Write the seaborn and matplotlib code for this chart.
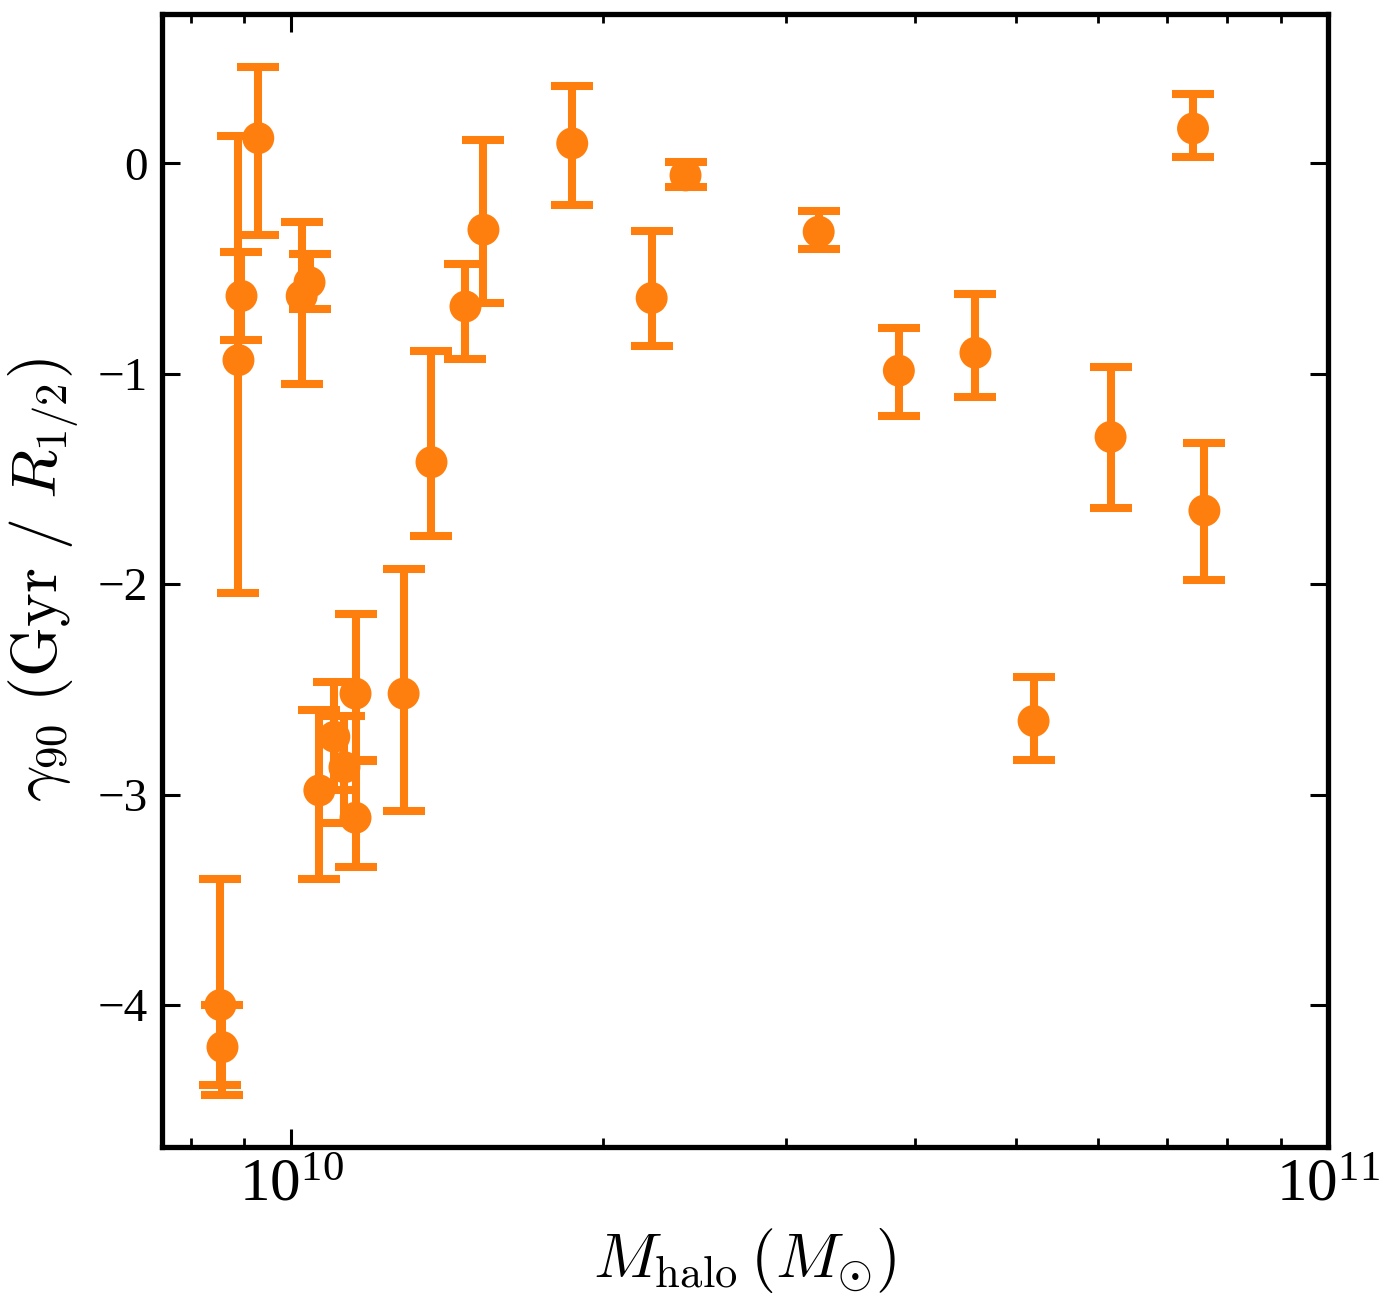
import numpy as np
import pandas as pd
import matplotlib
matplotlib.use("Agg")
import matplotlib.pyplot as plt
import matplotlib.ticker as mticker
import seaborn as sns

# ---- data ----
m_halo = [8.54e9, 8.58e9, 8.89e9, 8.95e9, 9.29e9, 1.023e10, 1.041e10,
          1.064e10, 1.100e10, 1.125e10, 1.153e10, 1.153e10, 1.283e10,
          1.365e10, 1.472e10, 1.532e10, 1.866e10, 2.226e10, 2.40e10,
          3.226e10, 3.855e10, 4.57e10, 5.20e10, 6.17e10, 7.41e10, 7.60e10]
gamma90 = [-4.00, -4.20, -0.935, -0.63, 0.12, -0.63, -0.565,
           -2.98, -2.725, -2.87, -2.52, -3.11, -2.52,
           -1.42, -0.68, -0.315, 0.095, -0.64, -0.057,
           -0.325, -0.985, -0.90, -2.65, -1.30, 0.166, -1.65]
err_upper = [-3.40, -4.00, 0.13, -0.42, 0.46, -0.28, -0.43,
             -2.60, -2.465, -2.625, -2.14, -2.84, -1.93,
             -0.89, -0.48, 0.11, 0.366, -0.32, 0.005,
             -0.225, -0.78, -0.62, -2.44, -0.97, 0.33, -1.33]
err_lower = [-4.38, -4.43, -2.04, -0.84, -0.34, -1.05, -0.69,
             -3.40, -2.98, -3.135, -2.835, -3.345, -3.08,
             -1.77, -0.93, -0.665, -0.20, -0.87, -0.113,
             -0.405, -1.20, -1.11, -2.835, -1.64, 0.03, -1.98]

df = pd.DataFrame({"m": m_halo, "g": gamma90, "hi": err_upper, "lo": err_lower})
df["e_hi"] = df["hi"] - df["g"]
df["e_lo"] = df["g"] - df["lo"]

sns.set_theme(style="ticks")
plt.rcParams["font.family"] = ["Liberation Serif", "DejaVu Serif"]
plt.rcParams["mathtext.fontset"] = "cm"
plt.rcParams["text.color"] = "black"
plt.rcParams["axes.labelcolor"] = "black"

orange = "#ff7f0e"
fig = plt.figure(figsize=(13.84, 13.10), dpi=100)
ax = fig.add_axes([0.117, 0.1244, 0.8425, 0.8649])

ax.errorbar(df["m"], df["g"], yerr=[df["e_lo"], df["e_hi"]], fmt="none",
            ecolor=orange, elinewidth=5.8, capsize=15, capthick=5.8, zorder=2)
sns.scatterplot(data=df, x="m", y="g", ax=ax, color=orange, s=23**2,
                marker="o", edgecolor="none", linewidth=0, zorder=3, legend=False)

ax.set_xscale("log")
ax.set_xlim(7.5e9, 1e11)
ax.set_ylim(-4.675, 0.71)
ax.set_yticks([-4, -3, -2, -1, 0])
ax.yaxis.set_major_formatter(mticker.FuncFormatter(lambda v, p: "\u2212%d" % abs(v) if v < 0 else "%d" % v))
ax.yaxis.set_minor_locator(mticker.NullLocator())

for s in ax.spines.values():
    s.set_linewidth(3.8)
    s.set_color("black")
ax.tick_params(which="both", direction="in", top=True, right=True,
               colors="black", labelcolor="black")
ax.tick_params(which="major", length=13, width=2.2, pad=10)
ax.tick_params(axis="y", which="major", labelsize=34)
ax.tick_params(axis="x", which="major", labelsize=44, pad=8)
ax.tick_params(which="minor", length=6.5, width=2.0)
ax.tick_params(axis="y", which="minor", left=False, right=False)

ax.set_xlabel(r"$M_{\rm halo}\,(M_{\odot})$", fontsize=46, labelpad=9, color="black")
ax.set_ylabel(r"$\gamma_{90}\ ({\rm Gyr}\ /\ R_{1/2})$", fontsize=46, labelpad=12, color="black")

fig.savefig("out.png", dpi=100)
